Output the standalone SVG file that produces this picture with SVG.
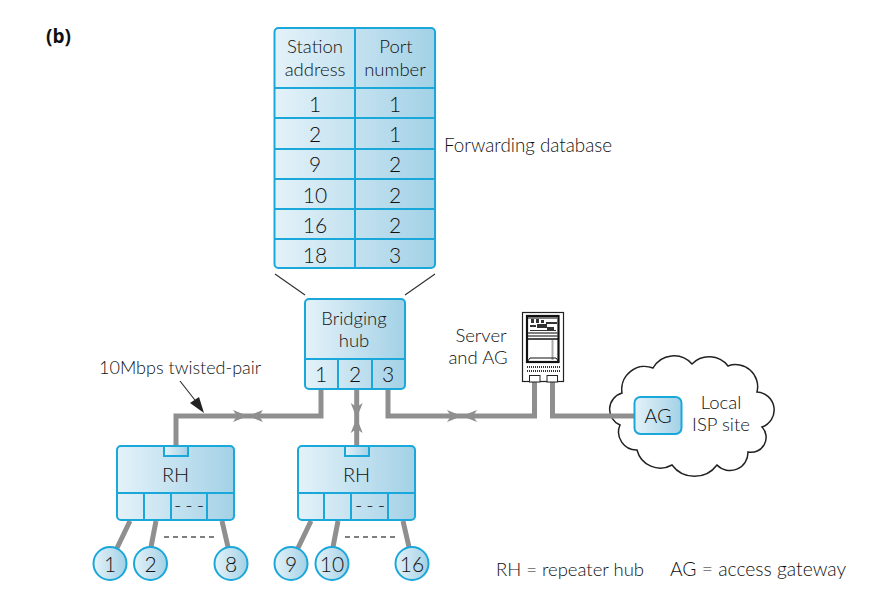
<svg xmlns="http://www.w3.org/2000/svg" width="874" height="602" viewBox="0 0 874 602">
<defs>
<linearGradient id="g"><stop offset="0" stop-color="#e4f2f9"/><stop offset="1" stop-color="#a3d1e6"/></linearGradient>
</defs>
<style>
text{font-family:"Lato","Liberation Sans",sans-serif;font-weight:300;font-size:18.500px;fill:#111;text-anchor:middle}
.n{font-size:21px}
.b{fill:url(#g);stroke:#1aa7d9;stroke-width:2}
.d{fill:none;stroke:#1aa7d9;stroke-width:2}
.w{fill:none;stroke:#8f8f8f;stroke-width:5}
.a{fill:#8f8f8f}
.h{fill:none;stroke:#333;stroke-width:1.200}
.l{text-anchor:start}
</style>
<rect width="874" height="602" fill="#fff"/>
<text x="46" y="43" class="l" style="font-weight:700;font-size:19px;font-family:'Open Sans','Liberation Sans',sans-serif">(b)</text>
<g id="isp-cloud">
<path d="M653 368A24 24 0 0 1 692 364A24 24 0 0 1 728 366A22 22 0 0 1 757 392A18 18 0 0 1 762 427A15 15 0 0 1 748 452A18 18 0 0 1 717 465A28 28 0 0 1 672 465A24 24 0 0 1 637 450A18 18 0 0 1 620 425A17 17 0 0 1 622 393A23 23 0 0 1 653 368Z" fill="#fff" stroke="#222" stroke-width="1.500"/>
</g>
<g id="connectors">
<path class="w" d="M321 389V416H176V446M356.700 389V446M388 389V416H534.500V382M552.500 382V416H636"/>
<path class="w" d="M130 521L117 548M156 521L151 547M222 521L228 547M311 521L298 548M338 521L333 547M403 521L409 547"/>
<path class="h" d="M275 274L305 295M435 274L405 295M180 381L198 404"/>
<path d="M164 537H218M345 537H398" fill="none" stroke="#555" stroke-width="1.500" stroke-dasharray="5 4"/>
<path fill="#222" d="M204 413L190 403L199 397Z"/>
<path class="a" d="M233 410L248 416L233 422L237 416ZM263 410L248 416L263 422L259 416Z"/>
<path class="a" d="M447 410L462 416L447 422L451 416ZM477 410L462 416L477 422L473 416Z"/>
<path class="a" d="M350.700 403L356.700 418L362.700 403L356.700 407ZM350.700 433L356.700 418L362.700 433L356.700 429Z"/>
</g>
<g id="forwarding-table">
<rect class="b" x="274.500" y="28" width="160.500" height="240" rx="4"/>
<path class="d" d="M355 28V268M274.500 88H435M274.500 118H435M274.500 149H435M274.500 179H435M274.500 209H435M274.500 239H435"/>
<text x="315" y="53">Station</text><text x="315" y="76">address</text>
<text x="396" y="53">Port</text><text x="395" y="76">number</text>
<text class="n" x="315" y="112">1</text><text class="n" x="395" y="112">1</text>
<text class="n" x="315" y="142">2</text><text class="n" x="395" y="142">1</text>
<text class="n" x="315" y="172">9</text><text class="n" x="395" y="172">2</text>
<text class="n" x="315" y="203">10</text><text class="n" x="395" y="203">2</text>
<text class="n" x="315" y="233">16</text><text class="n" x="395" y="233">2</text>
<text class="n" x="315" y="263">18</text><text class="n" x="395" y="263">3</text>
</g>
<text x="444" y="152" class="l" style="font-size:18.800px">Forwarding database</text>
<g id="bridging-hub">
<rect class="b" x="305" y="299" width="100" height="90" rx="4"/>
<path class="d" d="M305 359H405M338 359V389M372 359V389"/>
<text x="354" y="325">Bridging</text><text x="354" y="347">hub</text>
<text class="n" x="321" y="382">1</text><text class="n" x="355" y="382">2</text><text class="n" x="388" y="382">3</text>
</g>
<text x="99" y="374" class="l" style="font-size:18px">10Mbps twisted-pair</text>
<text x="481" y="342">Server</text><text x="478" y="364">and AG</text>
<g id="server">
<rect x="522.500" y="312.500" width="41" height="69" fill="#fff" stroke="#222" stroke-width="1.200"/>
<rect x="527" y="316" width="31.500" height="46" fill="#fff" stroke="#111" stroke-width="2.200"/>
<path d="M528 318H557M528 333H558M528 336H558" stroke="#555" stroke-width="1.500"/>
<path d="M528 339H558" stroke="#111" stroke-width="1.500"/>
<path d="M531 319h3v4h-3zM536 319h3v4h-3zM541 320h3v3h-3zM530 325h6v2h-6zM537 324h10v4h-10zM546 322h11v2h-11zM547 327h7v3h-7zM530 330h26v1h-26z" fill="#333"/>
<path d="M552.500 340V360" stroke="#aaa" stroke-width="2"/>
<path d="M527 362L530 358H556L559 362" fill="none" stroke="#111" stroke-width="1"/>
<path d="M527 367H560M527 371H560" stroke="#333" stroke-width="2" stroke-dasharray="1 1"/>
<rect x="529.500" y="375.500" width="10.500" height="6.500" fill="#fff" stroke="#222"/>
<rect x="547" y="375.500" width="10.500" height="6.500" fill="#fff" stroke="#222"/>
</g>
<g id="ag">
<rect class="b" x="634.500" y="397" width="47" height="37" rx="6"/>
<text x="658" y="423" style="font-size:20px">AG</text>
</g>
<text x="721" y="409">Local</text><text x="721" y="431">ISP site</text>
<g id="rh1">
<rect class="b" x="117" y="446" width="117" height="74" rx="4"/>
<path class="d" d="M117 493H234M144 493V520M171 493V520M207 493V520"/>
<rect class="b" x="164" y="446" width="24" height="10"/>
<text x="175.500" y="482" style="font-size:20px">RH</text>
<text x="191" y="512" style="font-size:20px;letter-spacing:4px">---</text>
</g>
<g id="rh2">
<rect class="b" x="298" y="446" width="117" height="74" rx="4"/>
<path class="d" d="M298 493H415M324 493V520M351 493V520M388 493V520"/>
<rect class="b" x="345" y="446" width="24" height="10"/>
<text x="356.500" y="482" style="font-size:20px">RH</text>
<text x="372" y="512" style="font-size:20px;letter-spacing:4px">---</text>
</g>
<g id="s1"><circle class="b" cx="110" cy="563.500" r="16.500"/><text class="n" x="110" y="571.500">1</text></g>
<g id="s2"><circle class="b" cx="150.500" cy="563.500" r="16.500"/><text class="n" x="150.500" y="571.500">2</text></g>
<g id="s8"><circle class="b" cx="231" cy="563.500" r="16.500"/><text class="n" x="231" y="571.500">8</text></g>
<g id="s9"><circle class="b" cx="291" cy="563.500" r="16.500"/><text class="n" x="291" y="571.500">9</text></g>
<g id="s10"><circle class="b" cx="332" cy="563.500" r="16.500"/><text class="n" x="332" y="571.500">10</text></g>
<g id="s16"><circle class="b" cx="412" cy="563.500" r="16.500"/><text class="n" x="412" y="571.500">16</text></g>
<text x="496" y="576" class="l">RH = repeater hub</text>
<text x="670" y="576" class="l" style="font-size:19.300px">AG = access gateway</text>
</svg>
